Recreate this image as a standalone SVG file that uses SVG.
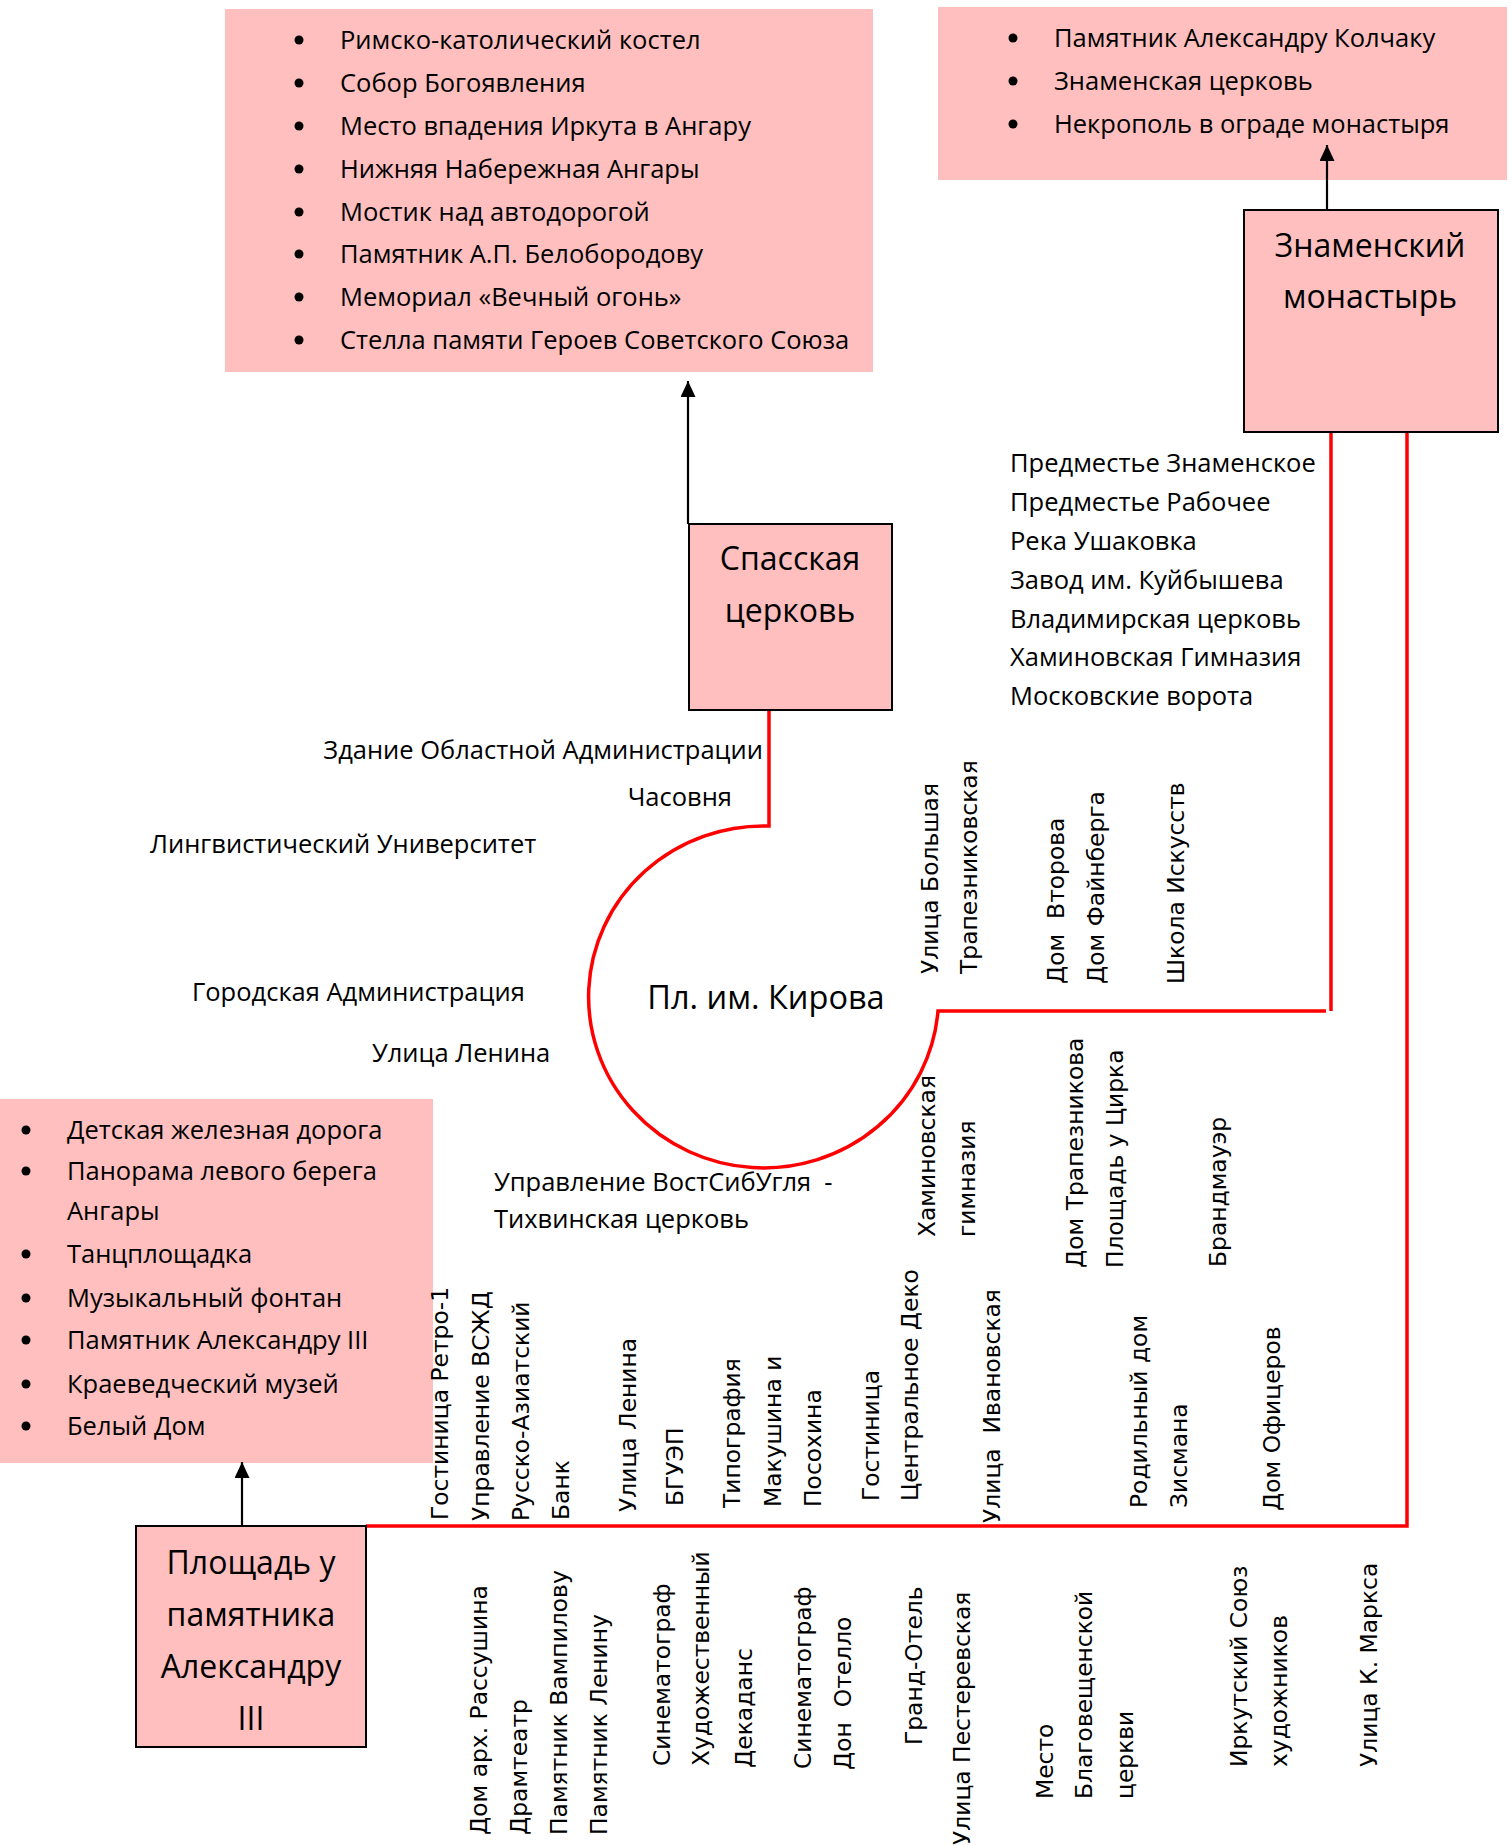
<svg xmlns="http://www.w3.org/2000/svg" width="1512" height="1845" viewBox="0 0 1512 1845">
<defs>
<marker id="arr" markerWidth="16" markerHeight="15" refX="16" refY="7.5" orient="auto" markerUnits="userSpaceOnUse">
<path d="M0,0 L16,7.5 L0,15 Z" fill="#000"/>
</marker>
</defs>
<style>
.pink{fill:#ffbfbf}
.box{fill:#ffbfbf;stroke:#000;stroke-width:2}
.t{font-family:"Open Sans","Noto Sans","DejaVu Sans",sans-serif;font-size:25.5px;fill:#000}
.title{font-family:"Open Sans","Noto Sans","DejaVu Sans",sans-serif;font-size:32px;fill:#000;text-anchor:middle}
.v{font-family:"DejaVu Sans","Liberation Sans",sans-serif;font-size:23.4px;fill:#000;white-space:pre}
.red{fill:none;stroke:#ff0000;stroke-width:3.5}
.blk{fill:none;stroke:#000;stroke-width:2.2}
.pre{white-space:pre}
</style>

<g id="list-spasskaya">
<rect class="pink" x="225" y="9" width="648" height="363"/>
<g fill="#000">
<circle cx="299" cy="40" r="4.5"/><circle cx="299" cy="83" r="4.5"/><circle cx="299" cy="126" r="4.5"/><circle cx="299" cy="169" r="4.5"/>
<circle cx="299" cy="212" r="4.5"/><circle cx="299" cy="254" r="4.5"/><circle cx="299" cy="297" r="4.5"/><circle cx="299" cy="340" r="4.5"/>
</g>
<text class="t" x="340" y="49">Римско-католический костел</text>
<text class="t" x="340" y="92">Собор Богоявления</text>
<text class="t" x="340" y="135">Место впадения Иркута в Ангару</text>
<text class="t" x="340" y="178">Нижняя Набережная Ангары</text>
<text class="t" x="340" y="221">Мостик над автодорогой</text>
<text class="t" x="340" y="263">Памятник А.П. Белобородову</text>
<text class="t" x="340" y="306">Мемориал «Вечный огонь»</text>
<text class="t" x="340" y="349">Стелла памяти Героев Советского Союза</text>
</g>

<g id="list-znamensky">
<rect class="pink" x="938" y="7" width="569" height="173"/>
<g fill="#000">
<circle cx="1013" cy="38" r="4.5"/><circle cx="1013" cy="81" r="4.5"/><circle cx="1013" cy="124" r="4.5"/>
</g>
<text class="t" x="1054" y="47">Памятник Александру Колчаку</text>
<text class="t" x="1054" y="90">Знаменская церковь</text>
<text class="t" x="1054" y="133">Некрополь в ограде монастыря</text>
</g>

<g id="list-ploshchad">
<rect class="pink" x="0" y="1099" width="433" height="364"/>
<g fill="#000">
<circle cx="26" cy="1130" r="4.5"/><circle cx="26" cy="1171" r="4.5"/><circle cx="26" cy="1254" r="4.5"/>
<circle cx="26" cy="1298" r="4.5"/><circle cx="26" cy="1340" r="4.5"/><circle cx="26" cy="1384" r="4.5"/><circle cx="26" cy="1426" r="4.5"/>
</g>
<text class="t" x="67" y="1139">Детская железная дорога</text>
<text class="t" x="67" y="1180">Панорама левого берега</text>
<text class="t" x="67" y="1220">Ангары</text>
<text class="t" x="67" y="1263">Танцплощадка</text>
<text class="t" x="67" y="1307">Музыкальный фонтан</text>
<text class="t" x="67" y="1349">Памятник Александру III</text>
<text class="t" x="67" y="1393">Краеведческий музей</text>
<text class="t" x="67" y="1435">Белый Дом</text>
</g>

<g id="connectors">
<path class="blk" d="M688,524 L688,381" marker-end="url(#arr)"/>
<path class="blk" d="M1327,210 L1327,145" marker-end="url(#arr)"/>
<path class="blk" d="M242,1526 L242,1462" marker-end="url(#arr)"/>
<path class="red" d="M769,710 L769,826 A175,171 0 1 0 938,1011 L1326,1011"/>
<path class="red" d="M1331,432 L1331,1011"/>
<path class="red" d="M1407,432 L1407,1526 L366,1526"/>
</g>

<g id="node-spasskaya">
<rect class="box" x="689" y="524" width="203" height="186"/>
<text class="title" x="790" y="570">Спасская</text>
<text class="title" x="790" y="622">церковь</text>
</g>

<g id="node-znamensky">
<rect class="box" x="1244" y="210" width="254" height="222"/>
<text class="title" x="1370" y="257">Знаменский</text>
<text class="title" x="1370" y="308">монастырь</text>
</g>

<g id="node-ploshchad">
<rect class="box" x="136" y="1526" width="230" height="221"/>
<text class="title" x="251" y="1574">Площадь у</text>
<text class="title" x="251" y="1626">памятника</text>
<text class="title" x="251" y="1678">Александру</text>
<text class="title" x="251" y="1730">III</text>
</g>

<g id="node-kirova">
<text class="title" x="766" y="1009" style="font-size:32.5px">Пл. им. Кирова</text>
</g>

<g id="labels-horizontal">
<text class="t" x="763" y="759" text-anchor="end">Здание Областной Администрации</text>
<text class="t" x="732" y="806" text-anchor="end">Часовня</text>
<text class="t" x="150" y="853">Лингвистический Университет</text>
<text class="t" x="192" y="1001">Городская Администрация</text>
<text class="t" x="372" y="1062">Улица Ленина</text>
<text class="t pre" x="494" y="1191">Управление ВостСибУгля  -</text>
<text class="t" x="494" y="1228">Тихвинская церковь</text>
<text class="t" x="1010" y="472">Предместье Знаменское</text>
<text class="t" x="1010" y="511">Предместье Рабочее</text>
<text class="t" x="1010" y="550">Река Ушаковка</text>
<text class="t" x="1010" y="589">Завод им. Куйбышева</text>
<text class="t" x="1010" y="628">Владимирская церковь</text>
<text class="t" x="1010" y="666">Хаминовская Гимназия</text>
<text class="t" x="1010" y="705">Московские ворота</text>
</g>

<g id="labels-vertical">
<text class="v" transform="translate(938,974) rotate(-90)">Улица Большая</text>
<text class="v" transform="translate(977,974) rotate(-90)">Трапезниковская</text>
<text class="v" transform="translate(1064,984) rotate(-90)">Дом  Второва</text>
<text class="v" transform="translate(1104,984) rotate(-90)">Дом Файнберга</text>
<text class="v" transform="translate(1184,984) rotate(-90)">Школа Искусств</text>

<text class="v" transform="translate(935,1237) rotate(-90)">Хаминовская</text>
<text class="v" transform="translate(975,1237) rotate(-90)">гимназия</text>
<text class="v" transform="translate(1083,1268) rotate(-90)">Дом Трапезникова</text>
<text class="v" transform="translate(1123,1268) rotate(-90)">Площадь у Цирка</text>
<text class="v" transform="translate(1226,1267) rotate(-90)">Брандмауэр</text>

<text class="v" transform="translate(448,1520) rotate(-90)">Гостиница Ретро-1</text>
<text class="v" transform="translate(489,1521) rotate(-90)">Управление ВСЖД</text>
<text class="v" transform="translate(529,1521) rotate(-90)">Русско-Азиатский</text>
<text class="v" transform="translate(569,1520) rotate(-90)">Банк</text>
<text class="v" transform="translate(636,1512) rotate(-90)">Улица Ленина</text>
<text class="v" transform="translate(683,1506) rotate(-90)">БГУЭП</text>
<text class="v" transform="translate(740,1508) rotate(-90)">Типография</text>
<text class="v" transform="translate(781,1507) rotate(-90)">Макушина и</text>
<text class="v" transform="translate(821,1507) rotate(-90)">Посохина</text>
<text class="v" transform="translate(879,1501) rotate(-90)">Гостиница</text>
<text class="v" transform="translate(918,1501) rotate(-90)">Центральное Деко</text>
<text class="v" transform="translate(1000,1523) rotate(-90)">Улица  Ивановская</text>
<text class="v" transform="translate(1147,1508) rotate(-90)">Родильный дом</text>
<text class="v" transform="translate(1187,1508) rotate(-90)">Зисмана</text>
<text class="v" transform="translate(1280,1511) rotate(-90)">Дом Офицеров</text>

<text class="v" transform="translate(487,1835) rotate(-90)">Дом арх. Рассушина</text>
<text class="v" transform="translate(527,1835) rotate(-90)">Драмтеатр</text>
<text class="v" transform="translate(567,1835) rotate(-90)">Памятник Вампилову</text>
<text class="v" transform="translate(607,1835) rotate(-90)">Памятник Ленину</text>
<text class="v" transform="translate(670,1766) rotate(-90)">Синематограф</text>
<text class="v" transform="translate(709,1766) rotate(-90)">Художественный</text>
<text class="v" transform="translate(752,1768) rotate(-90)">Декаданс</text>
<text class="v" transform="translate(811,1769) rotate(-90)">Синематограф</text>
<text class="v" transform="translate(851,1770) rotate(-90)">Дон  Отелло</text>
<text class="v" transform="translate(922,1745) rotate(-90)">Гранд-Отель</text>
<text class="v" transform="translate(970,1845) rotate(-90)">Улица Пестеревская</text>
<text class="v" transform="translate(1053,1799) rotate(-90)">Место</text>
<text class="v" transform="translate(1092,1799) rotate(-90)">Благовещенской</text>
<text class="v" transform="translate(1133,1799) rotate(-90)">церкви</text>
<text class="v" transform="translate(1247,1767) rotate(-90)">Иркутский Союз</text>
<text class="v" transform="translate(1287,1767) rotate(-90)">художников</text>
<text class="v" transform="translate(1377,1767) rotate(-90)">Улица К. Маркса</text>
</g>
</svg>
